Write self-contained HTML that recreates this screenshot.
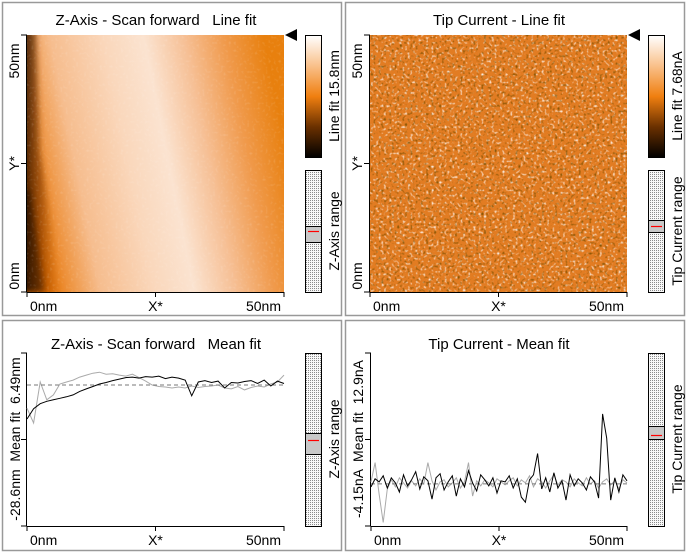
<!DOCTYPE html>
<html><head><meta charset="utf-8"><style>
html,body{margin:0;padding:0;background:#fff}
svg{display:block;font-family:"Liberation Sans",sans-serif}
text{white-space:pre}
</style></head><body>
<svg id="root" width="688" height="553" viewBox="0 0 688 553" xmlns="http://www.w3.org/2000/svg">
<defs>
<pattern id="dots" width="2" height="2" patternUnits="userSpaceOnUse"><rect width="2" height="2" fill="#f8f8f8"/><rect width="1" height="1" fill="#8a8a8a"/></pattern>
<linearGradient id="cbar" x1="0" y1="1" x2="0" y2="0"><stop offset="0" stop-color="#000"/><stop offset="0.25" stop-color="#6a3000"/><stop offset="0.5" stop-color="#f07f10"/><stop offset="0.75" stop-color="#f9c08a"/><stop offset="1" stop-color="#fff"/></linearGradient>
<linearGradient id="zimg" x1="0" y1="0.6" x2="1" y2="0.4">
<stop offset="0" stop-color="#d86800"/><stop offset="0.06" stop-color="#ec8a2c"/><stop offset="0.2" stop-color="#f6bd8e"/><stop offset="0.4" stop-color="#fad7bb"/><stop offset="0.55" stop-color="#fbe3d0"/><stop offset="0.7" stop-color="#f6c096"/><stop offset="0.85" stop-color="#f09a4c"/><stop offset="1" stop-color="#e8800e"/></linearGradient>
<linearGradient id="zleft" x1="0" y1="0" x2="1" y2="0"><stop offset="0" stop-color="#100400" stop-opacity="0.9"/><stop offset="0.5" stop-color="#803800" stop-opacity="0.6"/><stop offset="1" stop-color="#e07000" stop-opacity="0"/></linearGradient>
<filter id="blur"><feGaussianBlur stdDeviation="3"/></filter>
<filter id="noiseW" x="0" y="0" width="1" height="1"><feTurbulence type="fractalNoise" baseFrequency="0.38" numOctaves="1" seed="3"/><feColorMatrix type="matrix" values="0 0 0 0 1  0 0 0 0 1  0 0 0 0 1  3.5 0 0 0 -1.9"/></filter>
<filter id="noiseD" x="0" y="0" width="1" height="1"><feTurbulence type="fractalNoise" baseFrequency="0.38" numOctaves="1" seed="9"/><feColorMatrix type="matrix" values="0 0 0 0 0.2  0 0 0 0 0.08  0 0 0 0 0  3.5 0 0 0 -1.9"/></filter>
<clipPath id="zclip"><rect x="27" y="35" width="257" height="257"/></clipPath>
</defs>
<g id="panels"></g>
</svg>
<script>
// Z-axis mean-fit profile (nm), x spans 0..50nm
const zFwd = [-6.9,-4.8,-3.8,-3.3,-3.0,-2.7,-2.4,-2.0,-1.3,-0.8,-0.3,0.2,0.5,0.9,1.2,1.5,1.6,1.4,1.7,1.6,1.8,1.3,1.6,1.4,1.0,-2.2,0.6,0.9,0.5,0.8,-0.6,0.5,0.4,0.7,0.9,0.3,1.0,-0.2,0.8,0.3];
const zBwd = [-4.7,-7.7,0.6,-3.0,-2.0,0.2,0.6,1.0,1.6,2.0,2.4,2.6,2.2,2.3,2.0,1.8,2.2,1.5,0.8,0.0,-0.3,-0.4,-0.6,-0.4,-0.6,-0.2,-0.5,-0.3,-0.2,0.0,-0.6,-0.8,-0.3,-1.0,-0.5,-0.2,-0.4,0.2,0.6,2.0];
const zRange = [-28.6, 6.49];
// Tip current mean-fit profile (nA)
const tFwd = [-0.3,0.5,0.2,0.8,-0.4,0.6,0.1,-0.8,0.9,-0.2,0.4,1.2,-0.5,0.7,0.3,-1.5,0.6,1.0,-0.6,0.2,0.8,-1.2,0.5,-0.3,1.3,0.1,-0.7,0.9,0.4,-0.2,0.6,-0.9,0.3,0.2,0.8,-0.4,0.5,-1.3,-1.8,0.4,0.9,3.0,-0.5,0.6,-0.8,1.1,-0.4,0.3,-1.6,0.9,-0.2,0.5,0.1,-0.6,0.7,0.2,-1.4,6.9,4.5,-1.6,0.6,-0.8,0.9,0.3];
const tBwd = [0.2,2.1,-1.0,-3.8,-0.5,0.4,-0.3,0.6,0.1,-0.4,0.3,-0.2,0.5,0.0,2.1,0.3,-0.6,0.2,0.4,-0.3,0.1,0.6,-0.4,0.2,2.1,-1.2,0.3,-0.2,0.4,0.1,-0.3,0.5,0.2,-0.1,0.3,0.6,-0.2,0.4,0.1,0.8,-0.3,0.5,0.2,-0.4,0.3,0.9,-0.1,0.4,0.2,-0.3,0.5,0.1,-0.2,0.6,0.0,0.3,-0.4,0.2,0.5,-0.1,0.3,-0.5,0.4,0.1];
const tRange = [-4.15, 12.9];
const xTicks = ['0nm','X*','50nm'];
const yTicks = ['0nm','Y*','50nm'];

const NS='http://www.w3.org/2000/svg';
const G=document.getElementById('panels');
function mk(tag,attrs,parent,txt){const e=document.createElementNS(NS,tag);for(const k in attrs)e.setAttribute(k,attrs[k]);if(txt!==undefined)e.textContent=txt;(parent||G).appendChild(e);return e;}

function panelFrame(x,y,w,h,name){
  const r=mk('rect',{x:x+0.5,y:y+0.5,width:w,height:h,fill:'none',stroke:'#999','stroke-width':1.5});
  
  
}
function title(x,y,t,name){
  const e=mk('text',{x:x,y:y,'font-size':15,'text-anchor':'middle',fill:'#000'},G,t);
  
  
}
function vtext(x,y,t,name,size){
  const e=mk('text',{x:0,y:0,'font-size':size||14,'text-anchor':'middle',transform:`translate(${x},${y}) rotate(-90)`,fill:'#000'},G,t);
  
  
}
function axes(px,py,pw,ph,yl,prefix){
  mk('line',{x1:px,y1:py+ph+0.5,x2:px+pw,y2:py+ph+0.5,stroke:'#000'});
  mk('line',{x1:px-0.5,y1:py,x2:px-0.5,y2:py+ph,stroke:'#000'});
  for(let i=0;i<3;i++){
    const tx=px+i*pw/2;
    mk('line',{x1:tx,y1:py+ph,x2:tx,y2:py+ph+5,stroke:'#000'});
    const t=mk('text',{x:tx+(i==0?3:i==2?-3:0),y:py+ph+19,'font-size':14,'text-anchor':i==0?'start':i==2?'end':'middle'},G,xTicks[i]);
    
    
    const ty=py+ph-i*ph/2;
    mk('line',{x1:px-6,y1:ty,x2:px,y2:ty,stroke:'#000'});
  }
  if(yl) for(let i=0;i<3;i++){
    const ty=py+ph-i*ph/2;
    vtext(px-8,ty+(i==0?-16:i==2?26:0),yl[i],prefix+'-y-tick-'+i);
  }
}
function rangeBar(x,y,w,h,b0,b1,red,name){
  const r=mk('rect',{x:x+0.5,y:y+0.5,width:w,height:h,fill:'url(#dots)',stroke:'#000'});
  
  
  mk('rect',{x:x+0.5,y:b0+0.5,width:w,height:b1-b0,fill:'#c8c8c8',stroke:'#000'});
  mk('line',{x1:x+3,y1:red+0.5,x2:x+w-2,y2:red+0.5,stroke:'#ff0000','stroke-width':1.2});
}
function colorBar(x,y,w,h,name){
  const r=mk('rect',{x:x+0.5,y:y+0.5,width:w,height:h,fill:'url(#cbar)',stroke:'#000'});
  
  
}
function marker(x,y){
  const p=mk('polygon',{points:`${x},${y} ${x+12},${y-6} ${x+12},${y+6}`,fill:'#000'});
  
  
}
function linePlot(px,py,pw,ph,range,vals,color,name){
  const sx=i=>px+i/(vals.length-1)*pw;
  const sy=v=>py+(range[1]-v)/(range[1]-range[0])*ph;
  const d=vals.map((v,i)=>(i?'L':'M')+sx(i).toFixed(1)+','+sy(v).toFixed(1)).join('');
  const p=mk('path',{d:d,fill:'none',stroke:color,'stroke-width':1});
  
  
  return sy;
}

// Panel 1: Z-axis line fit image
panelFrame(2,2,339,313,'z-axis-line-fit-panel');
title(156,25,'Z-Axis - Scan forward   Line fit','z-image-title');
const zg=mk('g',{'clip-path':'url(#zclip)'});
let img=mk('rect',{x:27,y:35,width:257,height:257,fill:'url(#zimg)'},zg);


mk('polygon',{points:'20,30 36,30 40,150 62,292 20,292',fill:'url(#zleft)',filter:'url(#blur)'},zg);
mk('polygon',{points:'20,190 30,190 44,292 20,292',fill:'#000',opacity:0.35,filter:'url(#blur)'},zg);
mk('rect',{x:27,y:35,width:257,height:257,fill:'#fff',filter:'url(#noiseW)',opacity:0.12},zg);
axes(27,35,257,257,yTicks,'z-image');
colorBar(305,35,16,122,'z-colorbar');
vtext(339,96,'Line fit 15.8nm','z-colorbar-label');
rangeBar(305,170,16,122,226,242,231,'z-range-bar');
vtext(339,231,'Z-Axis range','z-range-label');
marker(285,35);

// Panel 2: Tip current line fit image
panelFrame(345,2,339,313,'tip-current-line-fit-panel');
title(499,25,'Tip Current - Line fit','tip-image-title');
img=mk('rect',{x:370,y:35,width:257,height:257,fill:'#e27c22'});


mk('rect',{x:370,y:35,width:257,height:257,fill:'#fff',filter:'url(#noiseW)',opacity:0.85});
mk('rect',{x:370,y:35,width:257,height:257,fill:'#000',filter:'url(#noiseD)',opacity:0.9});
axes(370,35,257,257,yTicks,'tip-image');
colorBar(648,35,16,122,'tip-colorbar');
vtext(682,96,'Line fit 7.68nA','tip-colorbar-label');
rangeBar(648,170,16,122,220,232,226,'tip-range-bar');
vtext(682,231,'Tip Current range','tip-range-label');
marker(628,35);

// Panel 3: Z mean fit
panelFrame(2,320,339,230,'z-axis-mean-fit-panel');
title(156,349,'Z-Axis - Scan forward   Mean fit','z-profile-title');
axes(27,353,257,173,null,'z-profile');
vtext(20,439,'-28.6nm  Mean fit  6.49nm','z-profile-y-label');
let sy=linePlot(27,353,257,173,zRange,zBwd,'#aaa','z-backward-line');
let dl=mk('line',{x1:27,y1:sy(0),x2:284,y2:sy(0),stroke:'#777','stroke-dasharray':'4,3'});


linePlot(27,353,257,173,zRange,zFwd,'#000','z-forward-line');
rangeBar(305,353,16,173,433,454,440,'z-profile-range-bar');
vtext(339,439,'Z-Axis range','z-profile-range-label');

// Panel 4: Tip current mean fit
panelFrame(345,320,339,230,'tip-current-mean-fit-panel');
title(499,349,'Tip Current - Mean fit','tip-profile-title');
axes(371,353,256,173,null,'tip-profile');
vtext(363,439,'-4.15nA  Mean fit  12.9nA','tip-profile-y-label');
sy=linePlot(371,353,256,173,tRange,tBwd,'#aaa','tip-backward-line');
dl=mk('line',{x1:371,y1:sy(0),x2:627,y2:sy(0),stroke:'#777','stroke-dasharray':'4,3'});


linePlot(371,353,256,173,tRange,tFwd,'#000','tip-forward-line');
rangeBar(648,353,16,173,426,439,435,'tip-profile-range-bar');
vtext(682,439,'Tip Current range','tip-profile-range-label');
</script>
</body></html>
